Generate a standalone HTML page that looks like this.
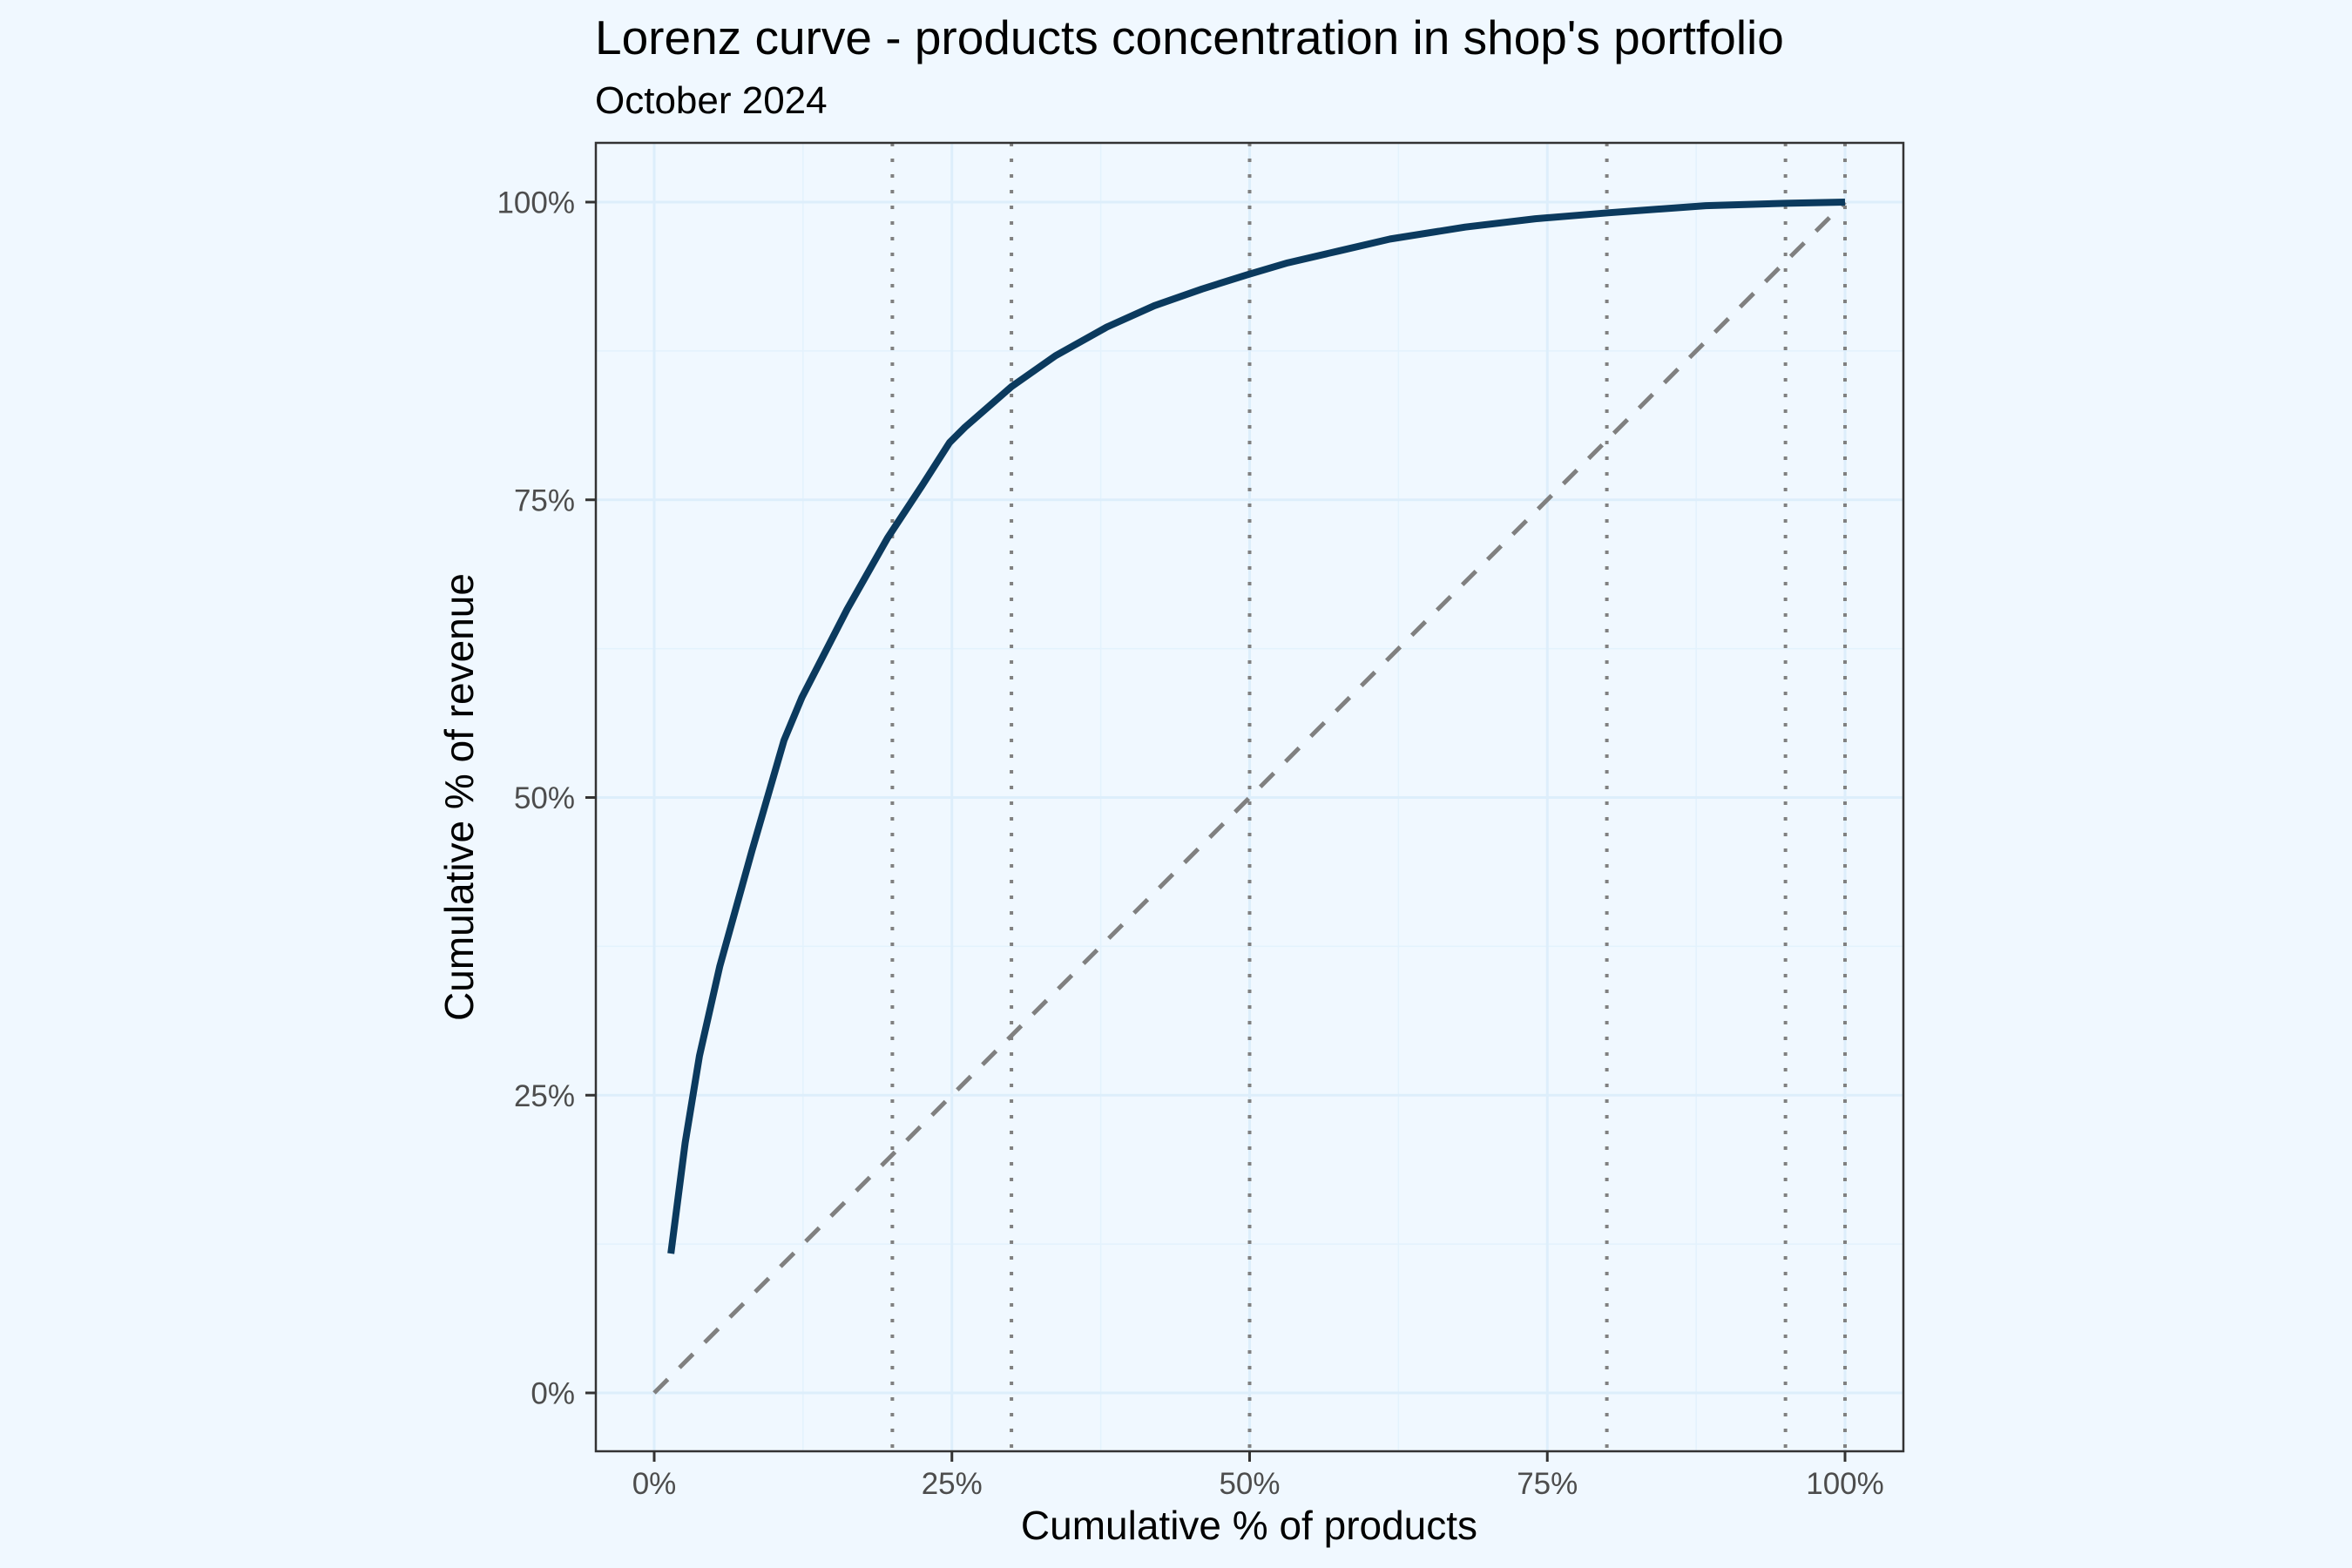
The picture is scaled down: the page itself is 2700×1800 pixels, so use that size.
<!DOCTYPE html>
<html><head><meta charset="utf-8"><style>
html,body{margin:0;padding:0;background:#f0f8ff;}
svg{display:block;font-family:"Liberation Sans",sans-serif;}
</style></head><body>
<svg width="2700" height="1800" viewBox="0 0 2700 1800">
<rect width="2700" height="1800" fill="#f0f8ff"/>
<text x="683" y="62" font-size="55" fill="#000">Lorenz curve - products concentration in shop's portfolio</text>
<text x="683" y="130" font-size="44" fill="#000">October 2024</text>
<g id="grid"></g>
<g id="vlines"></g>
<g id="series"></g>
<rect x="684" y="164" width="1501" height="1502" fill="none" stroke="#333" stroke-width="2.5"/>
<g id="axes"></g>
<text x="1434" y="1767" font-size="46" text-anchor="middle" fill="#000">Cumulative % of products</text>
<text transform="translate(543,915) rotate(-90)" font-size="46" text-anchor="middle" fill="#000">Cumulative % of revenue</text>
</svg>
<script>
const productShare = [1.4, 2.6, 3.8, 5.5, 8.2, 10.9, 12.4, 16.2, 19.6, 22.5, 24.8, 26.1, 30, 33.7, 38, 42, 46, 49.8, 53.2, 57.5, 61.8, 68.1, 74, 80.1, 88.3, 95, 100];
const revenueShare = [11.7, 21, 28.3, 35.8, 45.5, 54.8, 58.4, 65.8, 71.8, 76.2, 79.8, 81.1, 84.5, 87.1, 89.5, 91.3, 92.7, 93.9, 94.9, 95.9, 96.9, 97.9, 98.6, 99.1, 99.7, 99.9, 100];
const thresholds = [20, 30, 50, 80, 95, 100];
const tickValues = [0, 25, 50, 75, 100];
const tickLabels = ["0%", "25%", "50%", "75%", "100%"];
const minorTicks = [12.5, 37.5, 62.5, 87.5];

const NS = "http://www.w3.org/2000/svg";
const X0 = 751, XS = 13.67, Y0 = 1599, YS = 13.67;
function sx(v){return X0 + v*XS;}
function sy(v){return Y0 - v*YS;}
function mk(tag, attrs, parent){const e=document.createElementNS(NS,tag);for(const k in attrs)e.setAttribute(k,attrs[k]);document.getElementById(parent).appendChild(e);return e;}

minorTicks.forEach(v=>{
  let a=mk("line",{x1:sx(v),x2:sx(v),y1:164,y2:1666,stroke:"#e3f2fd","stroke-width":1.5},"grid");
  
  
  let b=mk("line",{x1:684,x2:2185,y1:sy(v),y2:sy(v),stroke:"#e3f2fd","stroke-width":1.5},"grid");
  
  
});
tickValues.forEach((v,i)=>{
  let a=mk("line",{x1:sx(v),x2:sx(v),y1:164,y2:1666,stroke:"#ddeefb","stroke-width":3},"grid");
  
  
  let b=mk("line",{x1:684,x2:2185,y1:sy(v),y2:sy(v),stroke:"#ddeefb","stroke-width":3},"grid");
  
  
  let tx=mk("line",{x1:sx(v),x2:sx(v),y1:1666,y2:1678,stroke:"#333","stroke-width":3},"axes");
  
  
  let lx=mk("text",{x:sx(v),y:1715,"font-size":35,"text-anchor":"middle",fill:"#4d4d4d"},"axes");
  lx.textContent=tickLabels[i];
  
  
  let ty=mk("line",{x1:672,x2:684,y1:sy(v),y2:sy(v),stroke:"#333","stroke-width":3},"axes");
  
  
  let ly=mk("text",{x:660,y:sy(v)+12.5,"font-size":35,"text-anchor":"end",fill:"#4d4d4d"},"axes");
  ly.textContent=tickLabels[i];
  
  
});
thresholds.forEach(v=>{
  let l=mk("line",{x1:sx(v),x2:sx(v),y1:164,y2:1666,stroke:"#808080","stroke-width":4,"stroke-dasharray":"4 14"},"vlines");
  
  
});
let d=mk("line",{x1:sx(0),y1:sy(0),x2:sx(100),y2:sy(100),stroke:"#808080","stroke-width":5,"stroke-dasharray":"22 19"},"series");


let pts=productShare.map((p,i)=>sx(p)+","+sy(revenueShare[i])).join(" ");
let c=mk("polyline",{points:pts,fill:"none",stroke:"#0b3a5e","stroke-width":8,"stroke-linejoin":"round"},"series");


</script>
</body></html>
